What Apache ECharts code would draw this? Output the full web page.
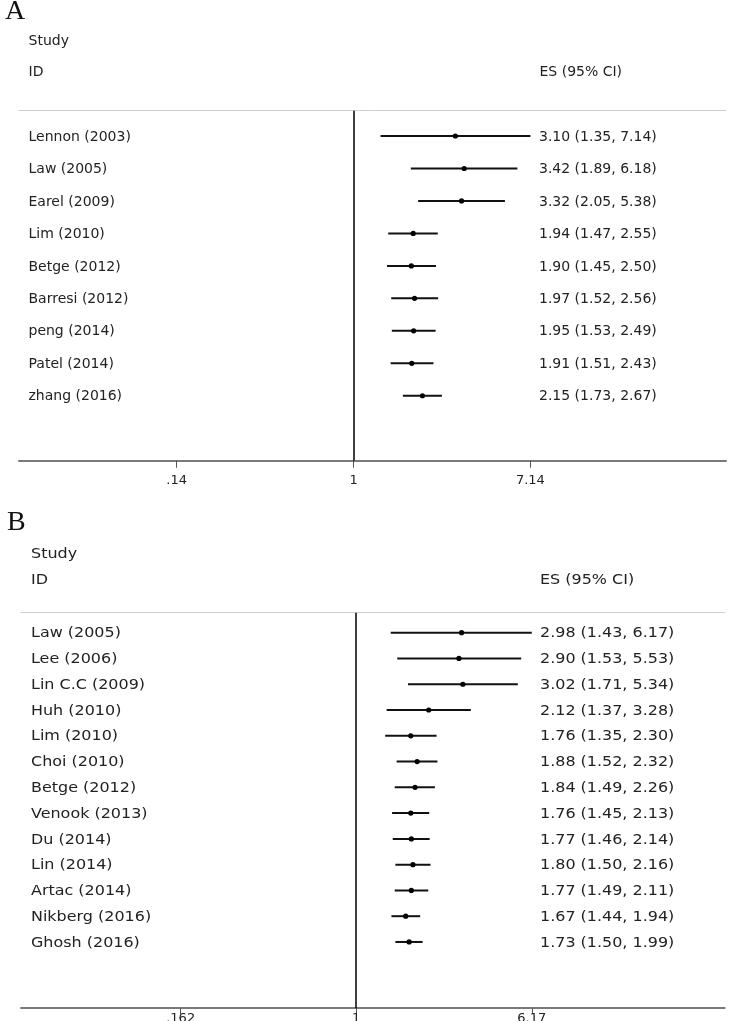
<!DOCTYPE html>
<html><head><meta charset="utf-8">
<script src="https://cdn.jsdelivr.net/npm/echarts@6/dist/echarts.min.js"></script>
<style>html,body{margin:0;padding:0;background:#fff}#c{width:734px;height:1021px}</style>
</head><body><div id="c"></div>
<script>
// ---- Panel A data ----
const studiesA = ['Lennon (2003)','Law (2005)','Earel (2009)','Lim (2010)','Betge (2012)','Barresi (2012)','peng (2014)','Patel (2014)','zhang (2016)'];
const esA   = [3.10, 3.42, 3.32, 1.94, 1.90, 1.97, 1.95, 1.91, 2.15];
const lowA  = [1.35, 1.89, 2.05, 1.47, 1.45, 1.52, 1.53, 1.51, 1.73];
const highA = [7.14, 6.18, 5.38, 2.55, 2.50, 2.56, 2.49, 2.43, 2.67];
const ticksA = [0.14, 1, 7.14];
const tickLabelsA = ['.14', '1', '7.14'];

// ---- Panel B data ----
const studiesB = ['Law (2005)','Lee (2006)','Lin C.C (2009)','Huh (2010)','Lim (2010)','Choi (2010)','Betge (2012)','Venook (2013)','Du (2014)','Lin (2014)','Artac (2014)','Nikberg (2016)','Ghosh (2016)'];
const esB   = [2.98, 2.90, 3.02, 2.12, 1.76, 1.88, 1.84, 1.76, 1.77, 1.80, 1.77, 1.67, 1.73];
const lowB  = [1.43, 1.53, 1.71, 1.37, 1.35, 1.52, 1.49, 1.45, 1.46, 1.50, 1.49, 1.44, 1.50];
const highB = [6.17, 5.53, 5.34, 3.28, 2.30, 2.32, 2.26, 2.13, 2.14, 2.16, 2.11, 1.94, 1.99];
const ticksB = [0.162, 1, 6.17];
const tickLabelsB = ['.162', '1', '6.17'];

const FONT = '"DejaVu Sans", sans-serif';
const TXT = '#222';

function fmtES(e, l, h) {
  return e.toFixed(2) + ' (' + l.toFixed(2) + ', ' + h.toFixed(2) + ')';
}

function labelFor(ticks, labels) {
  return function (v) {
    let best = 0;
    for (let i = 1; i < ticks.length; i++) {
      if (Math.abs(Math.log(ticks[i]) - Math.log(v)) < Math.abs(Math.log(ticks[best]) - Math.log(v))) best = i;
    }
    return labels[best];
  };
}

function makeAxes(gi, xmin, xmax, ticks, labels, labelMargin, tickLen) {
  return [
    {
      type: 'log', gridIndex: gi, min: xmin, max: xmax, position: 'bottom',
      axisLine: { show: true, onZero: false, lineStyle: { color: '#7a7a7a', width: 2 } },
      axisTick: { show: true, customValues: ticks, length: tickLen, lineStyle: { color: '#555', width: 1 } },
      axisLabel: { show: true, customValues: ticks, margin: labelMargin, color: TXT, fontSize: 13, fontFamily: FONT, formatter: labelFor(ticks, labels) },
      splitLine: { show: false }, minorTick: { show: false }
    },
    {
      type: 'log', gridIndex: gi, min: xmin, max: xmax, position: 'top',
      axisLine: { show: true, onZero: false, lineStyle: { color: '#cfcfcf', width: 1 } },
      axisTick: { show: false }, axisLabel: { show: false }, splitLine: { show: false }
    }
  ];
}

function makeSeries(xi, yi, names, es, lo, hi, sx, nameOff, esOff) {
  const data = es.map((e, i) => [e, i + 1, lo[i], hi[i]]);
  return {
    type: 'custom', xAxisIndex: xi, yAxisIndex: yi, coordinateSystem: 'cartesian2d',
    encode: { x: [0, 2, 3], y: 1 }, clip: false, silent: true,
    data: data,
    renderItem: function (params, api) {
      const i = params.dataIndex;
      const row = api.value(1);
      const p = api.coord([api.value(0), row]);
      const pl = api.coord([api.value(2), row]);
      const ph = api.coord([api.value(3), row]);
      const cs = params.coordSys;
      return {
        type: 'group',
        children: [
          { type: 'line', shape: { x1: pl[0], y1: p[1], x2: ph[0], y2: p[1] }, style: { stroke: '#111', lineWidth: 2 } },
          { type: 'circle', shape: { cx: p[0], cy: p[1], r: 2.6 }, style: { fill: '#000' } },
          { type: 'text', x: cs.x + nameOff, y: p[1] + 1, scaleX: sx,
            style: { text: names[i], fill: TXT, font: '14px ' + FONT, verticalAlign: 'middle', align: 'left' } },
          { type: 'text', x: cs.x + esOff, y: p[1] + 1, scaleX: sx,
            style: { text: fmtES(es[i], lo[i], hi[i]), fill: TXT, font: '14px ' + FONT, verticalAlign: 'middle', align: 'left' } }
        ]
      };
    },
    markLine: {
      silent: true, symbol: ['none', 'none'], animation: false,
      label: { show: false },
      lineStyle: { color: '#000', width: 1.5, type: 'solid' },
      data: [{ xAxis: 1 }]
    }
  };
}

function hdr(text, x, y, sx) {
  return { type: 'text', x: x, y: y, scaleX: sx, style: { text: text, fill: TXT, font: '14px ' + FONT, verticalAlign: 'middle', align: 'left' } };
}

const SXB = 1.14;

const option = {
  backgroundColor: '#fff',
  animation: false,
  grid: [
    { left: 19, right: 8, top: 110.7, height: 350, outerBoundsMode: 'none', containLabel: false },
    { left: 21, right: 9.3, top: 612.7, height: 395.5, outerBoundsMode: 'none', containLabel: false }
  ],
  xAxis: [].concat(
    makeAxes(0, 0.02426, 62.8, ticksA, tickLabelsA, 13, 7),
    makeAxes(1, 0.03094, 45.6, ticksB, tickLabelsB, 4, 6)
  ),
  yAxis: [
    { type: 'value', gridIndex: 0, inverse: true, min: 0.22, max: 11, show: false },
    { type: 'value', gridIndex: 1, inverse: true, min: 0.224, max: 15.57, show: false }
  ],
  series: [
    makeSeries(0, 0, studiesA, esA, lowA, highA, 1, 9.5, 520),
    makeSeries(2, 1, studiesB, esB, lowB, highB, SXB, 10, 519)
  ],
  graphic: [
    { type: 'text', x: 5, y: 12, style: { text: 'A', fill: '#111', font: '28px "Liberation Serif", serif', verticalAlign: 'middle' } },
    hdr('Study', 28.5, 41, 1),
    hdr('ID', 28.5, 72, 1),
    hdr('ES (95% CI)', 539.5, 72, 1),
    { type: 'text', x: 7, y: 523, style: { text: 'B', fill: '#111', font: '28px "Liberation Serif", serif', verticalAlign: 'middle' } },
    hdr('Study', 31, 554, SXB),
    hdr('ID', 31, 580, SXB),
    hdr('ES (95% CI)', 540, 580, SXB)
  ]
};

const chart = echarts.init(document.getElementById('c'), null, { renderer: 'canvas' });
chart.setOption(option);
</script>
</body></html>
